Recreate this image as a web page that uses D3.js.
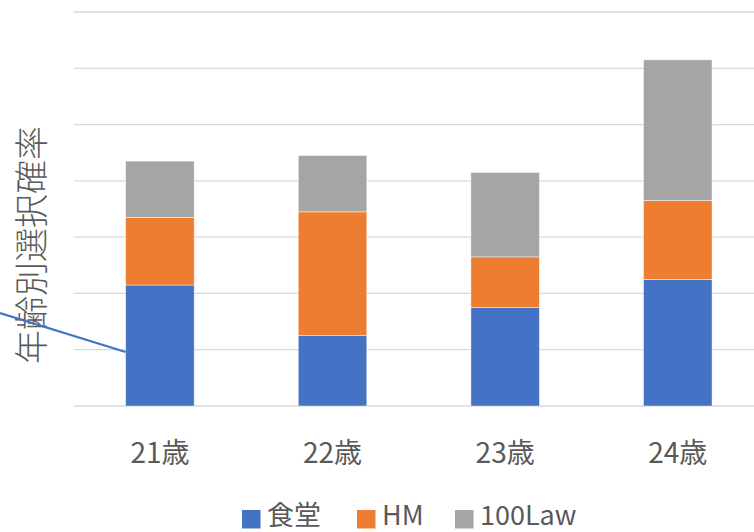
<!DOCTYPE html>
<html>
<head>
<meta charset="utf-8">
<script src="https://cdn.jsdelivr.net/npm/d3@7"></script>
<style>
  html, body { margin: 0; padding: 0; background: #fff; overflow: hidden; }
  svg { display: block; }
  text { font-family: "Noto Sans CJK JP", "Noto Sans", sans-serif; fill: #595959; }
</style>
</head>
<body>
<svg id="chart" width="754" height="532"></svg>
<script>
// Categories and series
const categories = ["21歳", "22歳", "23歳", "24歳"];
const seriesNames = ["食堂", "HM", "100Law"];
const shokudo = [0.1075, 0.0625, 0.0875, 0.1125];
const hm = [0.06, 0.11, 0.045, 0.07];
const law100 = [0.05, 0.05, 0.075, 0.125];
const gridTicks = [0, 0.05, 0.1, 0.15, 0.2, 0.25, 0.3, 0.35];
const yTitle = "年齢別選択確率";
// connector line: from the left edge at one level to the first bar at another
const connector = { fromValue: 0.0825, toCategory: "21歳", toValue: 0.048 };

const colors = ["#4472C4", "#ED7D31", "#A5A5A5"];

const rows = categories.map((c, i) => ({
  cat: c, "食堂": shokudo[i], "HM": hm[i], "100Law": law100[i]
}));

const svg = d3.select("#chart");

const x = d3.scaleBand()
  .domain(categories)
  .range([73.7, 764])
  .paddingInner(0.603)
  .paddingOuter(0.301);

const y = d3.scaleLinear()
  .domain([0, 0.35])
  .range([406, 12]);

// gridlines
svg.append("g")
  .selectAll("line")
  .data(gridTicks)
  .join("line")
  .attr("x1", 73.7)
  .attr("x2", 764)
  .attr("y1", d => y(d))
  .attr("y2", d => y(d))
  .attr("stroke", "#d9d9d9")
  .attr("stroke-width", 1.3);

// stacked bars
const stack = d3.stack().keys(seriesNames)(rows);
const color = d3.scaleOrdinal().domain(seriesNames).range(colors);

svg.append("g")
  .selectAll("g")
  .data(stack)
  .join("g")
  .attr("fill", d => color(d.key))
  .selectAll("rect")
  .data(d => d)
  .join("rect")
  .attr("x", d => x(d.data.cat))
  .attr("width", x.bandwidth())
  .attr("y", d => y(d[1]))
  .attr("height", d => y(d[0]) - y(d[1]))
  .attr("stroke", "rgba(255,255,255,0.6)")
  .attr("stroke-width", 0.75);

// category labels
const xAxis = d3.axisBottom(x).tickSize(0).tickPadding(0);
const xg = svg.append("g")
  .attr("transform", `translate(0, ${y(0)})`)
  .call(xAxis);
xg.select(".domain").remove();
xg.selectAll("text")
  .attr("dy", null)
  .attr("y", 57)
  .attr("font-size", 28)
  .attr("fill", "#595959")
  .style("font-family", '"Noto Sans CJK JP", "Noto Sans", sans-serif');

// y-axis title
svg.append("text")
  .attr("transform", `translate(44, ${245}) rotate(-90)`)
  .attr("text-anchor", "middle")
  .attr("font-size", 34)
  .attr("font-weight", 300)
  .text(yTitle);

// connector line
svg.append("line")
  .attr("x1", 0)
  .attr("y1", y(connector.fromValue))
  .attr("x2", x(connector.toCategory))
  .attr("y2", y(connector.toValue))
  .attr("stroke", "#4472C4")
  .attr("stroke-width", 2.2);

// legend
const legendItems = [
  { name: seriesNames[0], sx: 242, tx: 267 },
  { name: seriesNames[1], sx: 357, tx: 382 },
  { name: seriesNames[2], sx: 455, tx: 480 }
];
const lg = svg.append("g");
legendItems.forEach((d, i) => {
  lg.append("rect")
    .attr("x", d.sx)
    .attr("y", 510)
    .attr("width", 18.5)
    .attr("height", 18.5)
    .attr("fill", colors[i]);
  lg.append("text")
    .attr("x", d.tx)
    .attr("y", 525)
    .attr("font-size", 27)
    .text(d.name);
});
</script>
</body>
</html>
